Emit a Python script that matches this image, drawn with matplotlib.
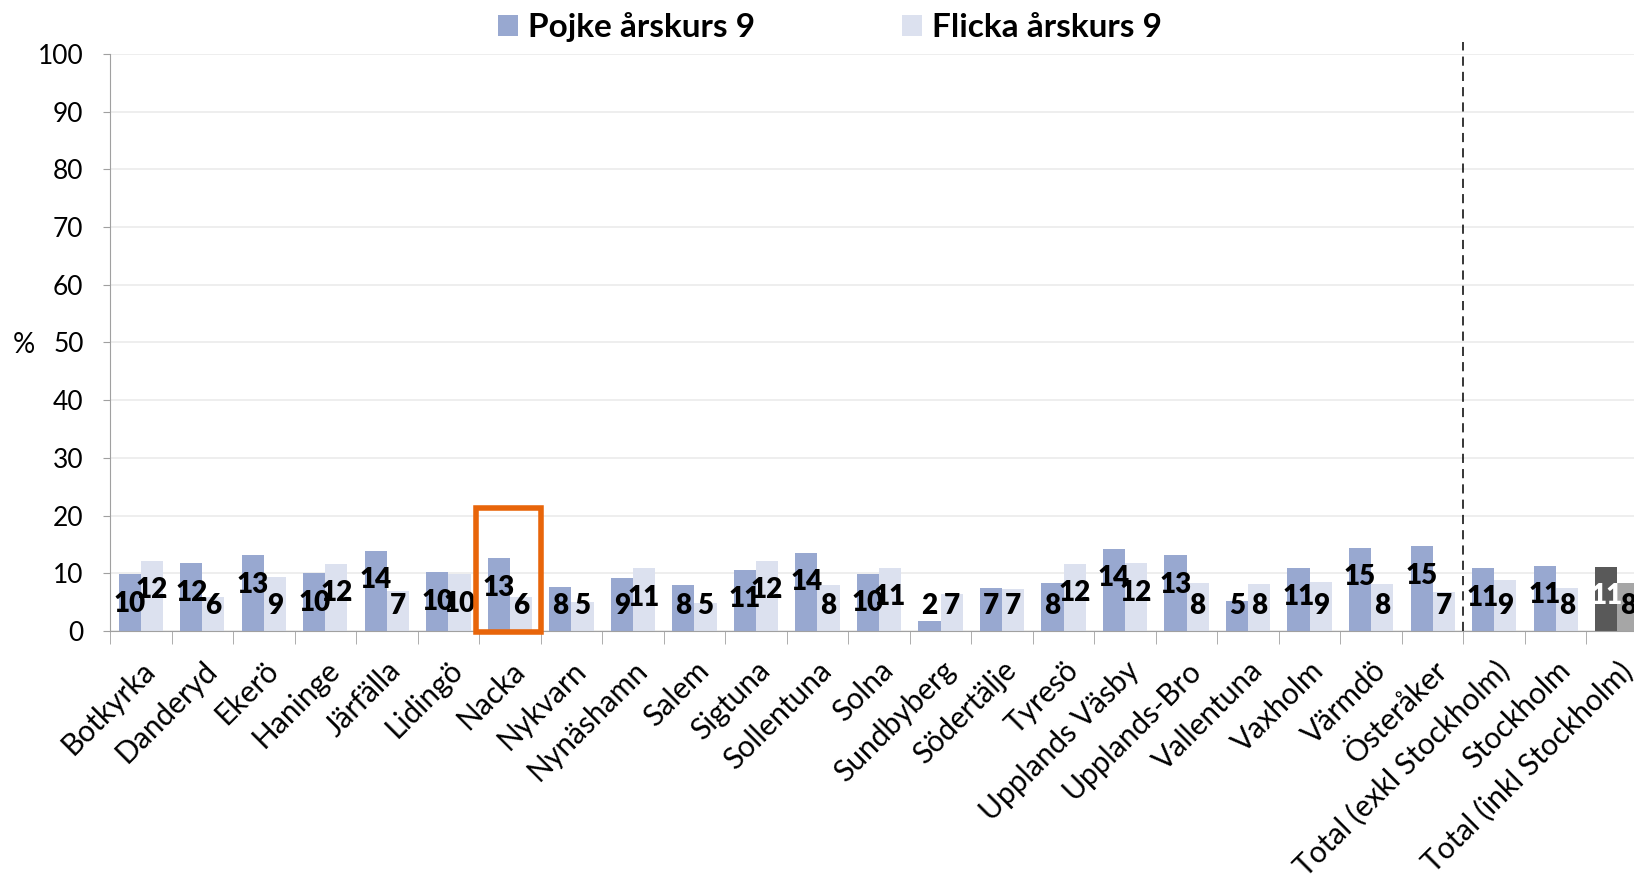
import numpy as np
import matplotlib.pyplot as plt
from matplotlib.patches import Rectangle

# kommuner / kategorier
kommuner = ['Botkyrka', 'Danderyd', 'Ekerö', 'Haninge', 'Järfälla', 'Lidingö',
            'Nacka', 'Nykvarn', 'Nynäshamn', 'Salem', 'Sigtuna', 'Sollentuna',
            'Solna', 'Sundbyberg', 'Södertälje', 'Tyresö', 'Upplands Väsby',
            'Upplands-Bro', 'Vallentuna', 'Vaxholm', 'Värmdö', 'Österåker',
            'Total (exkl Stockholm)', 'Stockholm', 'Total (inkl Stockholm)']
# andel i procent
pojke = [9.8, 11.7, 13.1, 10.0, 13.9, 10.2, 12.6, 7.7, 9.1, 8.0, 10.6, 13.6,
         9.9, 1.8, 7.4, 8.3, 14.2, 13.1, 5.2, 11.0, 14.4, 14.7, 10.9, 11.3, 11.1]
flicka = [12.2, 5.9, 9.3, 11.6, 7.0, 9.8, 5.9, 5.0, 10.9, 4.9, 12.2, 7.9,
          11.0, 6.4, 7.2, 11.6, 11.7, 8.3, 8.1, 8.5, 8.1, 6.8, 8.8, 7.5, 8.3]
pojke_etikett = [10, 12, 13, 10, 14, 10, 13, 8, 9, 8, 11, 14, 10, 2, 7, 8, 14, 13, 5, 11, 15, 15, 11, 11, 11]
flicka_etikett = [12, 6, 9, 12, 7, 10, 6, 5, 11, 5, 12, 8, 11, 7, 7, 12, 12, 8, 8, 9, 8, 7, 9, 8, 8]
yticks = list(range(0, 101, 10))

plt.rcParams['font.family'] = ['Lato', 'DejaVu Sans']

fig = plt.figure(figsize=(16.34, 8.8), dpi=100)
ax = fig.add_axes([110/1634, 1 - 631/880, 1538/1634, 577/880])

x = np.arange(len(kommuner))
w = 0.36
c_pojke = ['#98A8D0'] * 24 + ['#595959']
c_flicka = ['#DCE1EF'] * 24 + ['#A6A6A6']
ax.bar(x - w/2, pojke, w, color=c_pojke, label='Pojke årskurs 9', zorder=2)
ax.bar(x + w/2, flicka, w, color=c_flicka, label='Flicka årskurs 9', zorder=2)

# etiketter
for i in range(len(kommuner)):
    fc = 'white' if i == len(kommuner) - 1 else 'black'
    ax.text(x[i] - w/2, max(pojke[i] - 5.1, 4.3), str(pojke_etikett[i]), ha='center', va='center',
            fontsize=20, fontweight='heavy', color=fc, zorder=3)
    ax.text(x[i] + w/2, max(flicka[i] - 5.1, 4.3), str(flicka_etikett[i]), ha='center', va='center',
            fontsize=20, fontweight='heavy', color='black', zorder=3)

ax.set_xlim(-0.5, len(kommuner) - 0.5)
ax.set_ylim(0, 100)
ax.set_yticks(yticks)
ax.set_xticks(x)
ax.set_xticklabels(kommuner, rotation=45, ha='right', rotation_mode='anchor', fontsize=21.5)
ax.set_xticks(np.arange(-0.5, len(kommuner), 1), minor=True)
ax.tick_params(axis='x', which='major', length=0, pad=18)
ax.tick_params(axis='x', which='minor', length=9, color='#A0A0A0', direction='out')
ax.tick_params(axis='y', labelsize=19, length=5, color='#A0A0A0', pad=14)
ax.grid(axis='y', color='#EBEBEB', linewidth=1.2, zorder=0)
for s in ['top', 'right']:
    ax.spines[s].set_visible(False)
ax.spines['left'].set_color('#A0A0A0')
ax.spines['bottom'].set_color('#A0A0A0')
fig.text(24/1634, 1 - 345/880, '%', fontsize=20, ha='center', va='center')

# streckad linje före totalerna
ax.plot([21.5, 21.5], [0, 102], color='black', linestyle=(0, (6, 4)), linewidth=1.1,
        clip_on=False, zorder=3)

# markering av Nacka
ax.add_patch(Rectangle((5.45, -0.2), 1.05, 21.5, fill=False, edgecolor='#E8650A', linewidth=4,
                       clip_on=False, zorder=4))

fig.legend(loc='upper center', bbox_to_anchor=(0.508, 1.02), ncol=2, frameon=False,
           prop={'size': 24, 'weight': 'bold'}, handlelength=0.6, handleheight=0.6,
           columnspacing=4.4, handletextpad=0.3)

plt.savefig('out.png', dpi=100)
